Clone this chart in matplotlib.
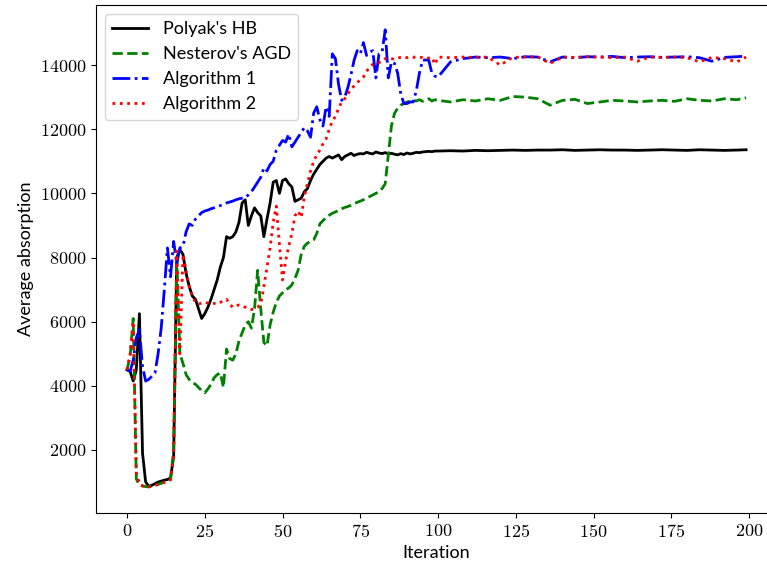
import matplotlib
matplotlib.use("Agg")
import matplotlib.pyplot as plt
from matplotlib.ticker import FuncFormatter, MultipleLocator

plt.rcParams['font.family'] = ['Lato', 'DejaVu Sans']
plt.rcParams['mathtext.fontset'] = 'cm'
plt.rcParams['font.size'] = 13

# iterations: every step up to 99, then every 4th one
iters = list(range(0, 100)) + list(range(100, 200, 4)) + [199]

polyak_hb = [
    4500, 4450, 4150, 4500, 6250, 1900, 1000, 870, 900, 950,
    1000, 1030, 1060, 1080, 1130, 1800, 8000, 8250, 8100, 7500,
    7100, 6800, 6700, 6400, 6100, 6250, 6450, 6700, 7000, 7300,
    7700, 8000, 8650, 8600, 8650, 8800, 9100, 9700, 9800, 9000,
    9300, 9550, 9400, 9300, 8650, 9200, 9700, 10350, 10400, 10000,
    10400, 10450, 10300, 10200, 9750, 9800, 9850, 10050, 10150, 10400,
    10600, 10750, 10900, 11000, 11100, 11150, 11100, 11150, 11200, 11050,
    11150, 11200, 11250, 11180, 11220, 11240, 11230, 11280, 11250, 11230,
    11290, 11260, 11240, 11270, 11230, 11250, 11220, 11200, 11240, 11210,
    11260, 11230, 11250, 11280, 11270, 11290, 11300, 11310, 11300, 11320,
    11320, 11330, 11320, 11340, 11330, 11340, 11350, 11340, 11350, 11350,
    11360, 11340, 11350, 11360, 11350, 11350, 11340, 11350, 11360, 11350,
    11340, 11360, 11350, 11340, 11350, 11360,
]

nesterov_agd = [
    4500, 4900, 6100, 1100, 900, 880, 860, 850, 870, 900,
    930, 960, 1000, 1040, 1080, 2000, 8000, 5000, 4700, 4350,
    4200, 4100, 4050, 3950, 3850, 3780, 3900, 4050, 4250, 4350,
    4400, 3950, 5150, 4850, 4800, 5000, 5400, 5650, 5900, 6000,
    5800, 6400, 7600, 6400, 5350, 5250, 5900, 6300, 6600, 6800,
    6900, 7000, 7050, 7150, 7350, 7600, 8100, 8350, 8450, 8500,
    8550, 8750, 9050, 9150, 9250, 9320, 9380, 9420, 9470, 9520,
    9560, 9590, 9630, 9680, 9720, 9760, 9800, 9850, 9900, 9950,
    10000, 10050, 10150, 10300, 11200, 12100, 12500, 12650, 12750, 12800,
    12850, 12870, 12900, 12880, 12920, 12870, 12900, 12950, 12880, 12920,
    12900, 12850, 12920, 12880, 12950, 12900, 13020, 13000, 12950, 12750,
    12900, 12930, 12800, 12850, 12900, 12880, 12850, 12880, 12900, 12870,
    12950, 12900, 12880, 12950, 12920, 12980,
]

algorithm_1 = [
    4500, 4450, 4800, 5500, 5750, 4600, 4150, 4200, 4300, 4400,
    5000, 5800, 7000, 8300, 7400, 8500, 7800, 8300, 8350, 8800,
    9050, 9000, 9200, 9300, 9400, 9450, 9480, 9520, 9550, 9580,
    9620, 9650, 9700, 9730, 9760, 9800, 9830, 9850, 9870, 9950,
    10050, 10200, 10350, 10500, 10800, 10700, 10900, 11000, 11350, 11500,
    11650, 11600, 11850, 11450, 11600, 11750, 11900, 12050, 11950, 11750,
    12500, 12700, 12300, 12100, 12700, 12400, 14350, 14200, 13400, 12900,
    13000, 13300, 13700, 14150, 14450, 14350, 14700, 14300, 14400, 14450,
    13600, 14350, 14400, 15100, 13600, 14100, 14050, 13750, 13100, 12800,
    12800, 12850, 12850, 13200, 13750, 14150, 14160, 14150, 13750, 13650,
    13630, 14100, 14200, 14250, 14230, 14250, 14200, 14260, 14250, 14100,
    14250, 14230, 14260, 14250, 14270, 14230, 14250, 14260, 14240, 14250,
    14260, 14230, 14120, 14240, 14260, 14280,
]

algorithm_2 = [
    4500, 5000, 6000, 1300, 950, 880, 860, 850, 870, 900,
    930, 960, 990, 1030, 1070, 1800, 8200, 5000, 8100, 7600,
    7100, 6800, 6600, 6550, 6580, 6600, 6580, 6600, 6570, 6550,
    6600, 6650, 6700, 6550, 6450, 6500, 6520, 6500, 6450, 6400,
    6380, 6400, 6450, 6550, 7100, 7700, 8300, 9100, 9600, 8400,
    7300, 7900, 8350, 8750, 9300, 9450, 9250, 9900, 10300, 10700,
    11000, 11200, 11350, 11550, 11700, 12000, 12250, 12400, 12650, 12850,
    12950, 13100, 13250, 13350, 13450, 13550, 13630, 13800, 13940, 14020,
    14060, 14080, 14100, 14200, 14220, 14200, 14180, 14220, 14240, 14250,
    14230, 14250, 14240, 14260, 14250, 14230, 14200, 14220, 14240, 14020,
    14250, 14230, 14250, 14240, 14250, 14000, 14240, 14250, 14260, 14050,
    14250, 14240, 14260, 14250, 14230, 14250, 14120, 14250, 14240, 14250,
    14230, 14100, 14240, 14200, 14100, 14250,
]

fig = plt.figure(figsize=(7.67, 5.70), dpi=100)
ax = fig.add_axes([0.1252, 0.1, 0.8879, 0.8912])

ax.plot(iters, polyak_hb, color='k', linestyle='-', linewidth=2, label="Polyak's HB")
ax.plot(iters, nesterov_agd, color='g', linestyle='--', linewidth=2, label="Nesterov's AGD")
ax.plot(iters, algorithm_1, color='b', linestyle='-.', linewidth=2, label='Algorithm 1')
ax.plot(iters, algorithm_2, color='r', linestyle=':', linewidth=2, label='Algorithm 2')

ax.set_xlim(-9.95, 208.95)
ax.set_ylim(36, 15872)
ax.xaxis.set_major_locator(MultipleLocator(25))
ax.set_yticks(range(2000, 15000, 2000))
fmt = FuncFormatter(lambda v, p: r'$%d$' % v)
ax.xaxis.set_major_formatter(fmt)
ax.yaxis.set_major_formatter(fmt)
ax.tick_params(labelsize=13)
ax.spines['right'].set_visible(False)

ax.set_xlabel('Iteration')
ax.set_ylabel('Average absorption')
ax.legend(loc='upper left', fontsize=13)

fig.savefig('out.png', dpi=100)
